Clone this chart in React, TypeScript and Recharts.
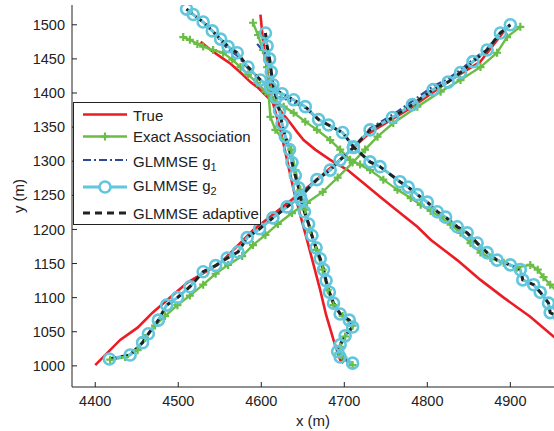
import { Line, LineChart, XAxis, YAxis } from "recharts";

// track estimates, [x (m), y (m)]
const trueA = [[4400, 1001], [4430, 1038], [4451, 1056], [4469, 1078], [4487, 1097], [4511, 1122], [4551, 1151], [4590, 1199], [4629, 1236], [4659, 1265], [4695, 1302], [4731, 1342], [4780, 1378], [4828, 1419], [4864, 1446], [4894, 1493]];
const trueB = [[4599, 1515], [4602, 1478], [4607, 1434], [4613, 1390], [4623, 1346], [4631, 1302], [4639, 1258], [4647, 1221], [4655, 1185], [4663, 1148], [4671, 1111], [4678, 1075], [4687, 1038], [4695, 1009], [4699, 1004]];
const trueC = [[4527, 1475], [4539, 1463], [4551, 1453], [4563, 1443], [4575, 1430], [4587, 1416], [4595, 1409], [4605, 1397], [4617, 1383], [4629, 1365], [4635, 1356], [4643, 1343], [4651, 1331], [4665, 1317], [4683, 1302], [4704, 1287], [4723, 1268], [4743, 1248], [4759, 1232], [4788, 1204], [4804, 1185], [4836, 1155], [4864, 1126], [4892, 1100], [4924, 1072], [4952, 1043], [4960, 1035]];

const exactA = [[4418, 1009], [4436, 1013], [4451, 1023], [4460, 1041], [4472, 1059], [4484, 1073], [4499, 1089], [4514, 1103], [4530, 1119], [4545, 1135], [4560, 1148], [4577, 1161], [4590, 1177], [4605, 1192], [4620, 1208], [4637, 1224], [4655, 1239], [4674, 1255], [4692, 1276], [4710, 1298], [4725, 1317], [4740, 1336], [4759, 1356], [4788, 1380], [4816, 1402], [4840, 1419], [4864, 1438], [4884, 1459], [4896, 1482], [4912, 1497]];
const exactB = [[4590, 1503], [4596, 1485], [4602, 1463], [4607, 1438], [4608, 1409], [4611, 1365], [4617, 1346], [4636, 1317], [4641, 1287], [4647, 1258], [4653, 1229], [4659, 1199], [4666, 1170], [4674, 1141], [4680, 1111], [4687, 1089], [4698, 1073], [4710, 1059], [4701, 1043], [4695, 1028], [4693, 1019], [4699, 1012], [4710, 1001]];
const exactC = [[4506, 1482], [4514, 1478], [4523, 1472], [4530, 1468], [4542, 1463], [4554, 1459], [4565, 1449], [4575, 1438], [4584, 1427], [4595, 1415], [4605, 1402], [4614, 1390], [4627, 1380], [4639, 1371], [4653, 1358], [4667, 1346], [4683, 1331], [4695, 1317], [4707, 1302], [4719, 1295], [4731, 1287], [4747, 1273], [4764, 1258], [4780, 1246], [4792, 1236], [4804, 1227], [4816, 1218], [4828, 1207], [4840, 1195], [4852, 1180], [4864, 1166], [4876, 1158], [4892, 1151], [4908, 1144], [4924, 1148], [4933, 1141], [4940, 1130], [4948, 1119], [4958, 1107]];

const g1A = [[4417, 1010], [4442, 1016], [4457, 1034], [4464, 1047], [4476, 1067], [4486, 1089], [4499, 1100], [4514, 1116], [4530, 1138], [4545, 1147], [4559, 1158], [4572, 1167], [4583, 1188], [4598, 1201], [4614, 1217], [4631, 1233], [4647, 1248], [4667, 1273], [4683, 1287], [4695, 1302], [4711, 1320], [4731, 1348], [4758, 1368], [4782, 1388], [4807, 1410], [4825, 1421], [4840, 1434], [4855, 1449], [4872, 1465], [4888, 1489], [4900, 1500]];
const g1B = [[4595, 1472], [4607, 1455], [4610, 1440], [4612, 1425], [4614, 1410], [4618, 1393], [4622, 1374], [4625, 1355], [4629, 1336], [4634, 1317], [4637, 1298], [4641, 1279], [4645, 1261], [4648, 1243], [4652, 1226], [4657, 1208], [4661, 1191], [4666, 1173], [4671, 1157], [4675, 1141], [4678, 1125], [4682, 1108], [4687, 1092], [4695, 1076], [4706, 1067], [4710, 1057], [4701, 1044], [4695, 1031], [4692, 1021], [4695, 1013], [4710, 1004]];
const g1C = [[4510, 1523], [4518, 1515], [4530, 1504], [4541, 1491], [4551, 1476], [4560, 1464], [4571, 1455], [4584, 1436], [4599, 1419], [4611, 1405], [4625, 1393], [4639, 1386], [4653, 1378], [4669, 1361], [4681, 1353], [4698, 1342], [4711, 1321], [4731, 1299], [4743, 1292], [4767, 1270], [4777, 1262], [4788, 1251], [4800, 1240], [4812, 1226], [4822, 1218], [4836, 1204], [4848, 1195], [4860, 1180], [4872, 1166], [4884, 1155], [4900, 1148], [4912, 1141], [4915, 1126], [4928, 1119], [4936, 1108], [4946, 1092], [4948, 1078], [4960, 1070]];

const g2A = [[4417, 1010], [4442, 1016], [4457, 1034], [4464, 1047], [4476, 1067], [4486, 1089], [4499, 1100], [4514, 1116], [4530, 1138], [4545, 1147], [4559, 1158], [4572, 1167], [4583, 1188], [4598, 1201], [4614, 1217], [4631, 1233], [4647, 1248], [4667, 1273], [4683, 1287], [4695, 1302], [4711, 1320], [4731, 1346], [4758, 1364], [4782, 1383], [4807, 1405], [4825, 1416], [4840, 1430], [4855, 1446], [4872, 1463], [4888, 1488], [4900, 1500]];
const g2B = [[4605, 1488], [4607, 1469], [4610, 1450], [4612, 1431], [4614, 1412], [4618, 1393], [4622, 1374], [4625, 1355], [4629, 1336], [4634, 1317], [4637, 1298], [4641, 1279], [4645, 1261], [4648, 1243], [4652, 1226], [4657, 1208], [4661, 1191], [4666, 1173], [4671, 1157], [4675, 1141], [4678, 1125], [4682, 1108], [4687, 1092], [4695, 1076], [4706, 1067], [4710, 1057], [4701, 1044], [4695, 1031], [4692, 1021], [4695, 1013], [4710, 1004]];
const g2C = [[4510, 1523], [4518, 1515], [4530, 1504], [4541, 1491], [4551, 1479], [4560, 1468], [4571, 1459], [4584, 1438], [4599, 1419], [4611, 1408], [4625, 1399], [4639, 1390], [4653, 1380], [4669, 1361], [4681, 1353], [4698, 1342], [4711, 1321], [4731, 1299], [4743, 1292], [4767, 1270], [4777, 1262], [4788, 1251], [4800, 1240], [4812, 1226], [4822, 1218], [4836, 1204], [4848, 1195], [4860, 1180], [4872, 1166], [4884, 1155], [4900, 1148], [4912, 1141], [4915, 1126], [4928, 1119], [4936, 1108], [4946, 1092], [4948, 1078], [4960, 1070]];

// adaptive estimate sits on top of g2 everywhere in the figure
const adaptA = g2A;
const adaptB = g2B;
const adaptC = g2C;

const xTicks = [4400, 4500, 4600, 4700, 4800, 4900];
const yTicks = [1000, 1050, 1100, 1150, 1200, 1250, 1300, 1350, 1400, 1450, 1500];

const RED = "#ec1c24";
const GREEN = "#6abd45";
const CYAN = "#62c6dc";
const NAVY = "#2a4b9b";
const INK = "#222";
const FONT = "'Liberation Sans', Arial, sans-serif";

const pts = (arr: number[][]) => arr.map(([x, y]) => ({ x, y }));

const PlusDot = (props: any) => {
  const { cx, cy, index } = props;
  if (cx == null || cy == null) return <g key={`n-${index}`} />;
  return (
    <path
      key={`p-${index}`}
      d={`M${cx - 4},${cy}h8M${cx},${cy - 4}v8`}
      stroke={GREEN}
      strokeWidth={2.2}
      fill="none"
    />
  );
};

const tracks = [
  { id: "true", data: [trueA, trueB, trueC], stroke: RED, width: 2.6, dash: undefined, dot: false as any },
  { id: "exact", data: [exactA, exactB, exactC], stroke: GREEN, width: 2.4, dash: undefined, dot: PlusDot },
  { id: "g1", data: [g1A, g1B, g1C], stroke: NAVY, width: 2.2, dash: "8 3 2 3", dot: false as any },
  { id: "g2", data: [g2A, g2B, g2C], stroke: CYAN, width: 3, dash: undefined, dot: { r: 5.5, stroke: CYAN, strokeWidth: 2.6, fill: "none" } },
  { id: "adapt", data: [adaptA, adaptB, adaptC], stroke: INK, width: 3, dash: "7 5", dot: false as any }
];

const tickStyle = { fill: INK, fontSize: 14.5, fontFamily: FONT };

export default function App() {
  return (
    <div style={{ position: "fixed", left: 0, top: 0, width: 554, height: 431, overflow: "hidden", background: "#fff" }}>
      <LineChart width={562} height={431} margin={{ top: 5, right: 6, bottom: 0, left: 0 }}>
        <XAxis
          dataKey="x"
          type="number"
          domain={[4372, 4955]}
          ticks={xTicks}
          allowDataOverflow
          height={44}
          stroke={INK}
          tickSize={-5}
          tickMargin={14}
          tick={tickStyle}
        />
        <XAxis
          xAxisId="top"
          orientation="top"
          dataKey="x"
          type="number"
          domain={[4372, 4955]}
          ticks={xTicks}
          allowDataOverflow
          height={0}
          stroke={INK}
          tickSize={-5}
          tick={false}
        />
        <YAxis
          type="number"
          domain={[969, 1529]}
          ticks={yTicks}
          allowDataOverflow
          width={72}
          stroke={INK}
          tickSize={-5}
          tickMargin={12}
          tick={tickStyle}
        />
        <YAxis
          yAxisId="right"
          orientation="right"
          type="number"
          domain={[969, 1529]}
          ticks={yTicks}
          allowDataOverflow
          width={0}
          stroke={INK}
          tickSize={-5}
          tick={false}
        />
        {tracks.flatMap((s) =>
          s.data.map((d, i) => (
            <Line
              key={`${s.id}-${i}`}
              data={pts(d)}
              dataKey="y"
              type="linear"
              stroke={s.stroke}
              strokeWidth={s.width}
              strokeDasharray={s.dash}
              dot={s.dot}
              activeDot={false}
              legendType="none"
              isAnimationActive={false}
            />
          ))
        )}
      </LineChart>
      <svg width={554} height={431} style={{ position: "absolute", left: 0, top: 0, pointerEvents: "none" }} fontFamily={FONT}>
        <text x={313} y={426} textAnchor="middle" fontSize={15} fill={INK}>x (m)</text>
        <text x={0} y={0} transform="translate(24,196) rotate(-90)" textAnchor="middle" fontSize={15} fill={INK}>y (m)</text>
        <rect x={73.5} y={102.5} width={187} height={122} fill="#fff" stroke={INK} strokeWidth={1} />
        <line x1={83} x2={127} y1={114.5} y2={114.5} stroke={RED} strokeWidth={2.6} />
        <text x={133} y={120.5} fontSize={15} fill={INK}>True</text>
        <line x1={83} x2={127} y1={136.5} y2={136.5} stroke={GREEN} strokeWidth={2.4} />
        <path d="M101,136.5h8M105,132.5v8" stroke={GREEN} strokeWidth={2.2} />
        <text x={133} y={141.5} fontSize={15} fill={INK}>Exact Association</text>
        <line x1={83} x2={127} y1={160} y2={160} stroke={NAVY} strokeWidth={2.2} strokeDasharray="8 3 2 3" />
        <text x={133} y={167} fontSize={15} fill={INK}>
          GLMMSE g<tspan fontSize={11} dy={4}>1</tspan>
        </text>
        <line x1={83} x2={127} y1={187} y2={187} stroke={CYAN} strokeWidth={3} />
        <circle cx={105} cy={187} r={5.5} stroke={CYAN} strokeWidth={2.6} fill="#fff" />
        <text x={133} y={191} fontSize={15} fill={INK}>
          GLMMSE g<tspan fontSize={11} dy={4}>2</tspan>
        </text>
        <line x1={83} x2={127} y1={213} y2={213} stroke={INK} strokeWidth={3} strokeDasharray="7 5" />
        <text x={133} y={219} fontSize={15} fill={INK}>GLMMSE adaptive</text>
      </svg>
    </div>
  );
}
